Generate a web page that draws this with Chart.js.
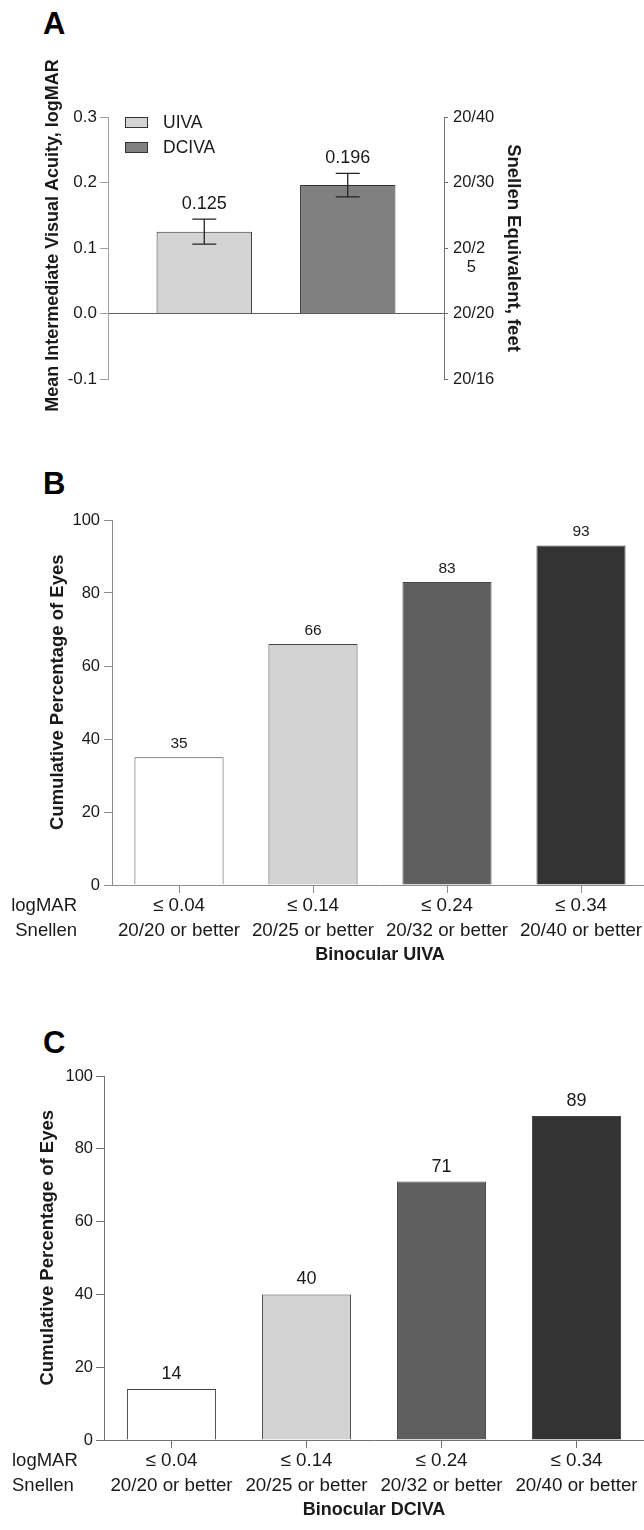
<!DOCTYPE html>
<html>
<head>
<meta charset="utf-8">
<script src="https://cdn.jsdelivr.net/npm/chart.js@4.4.0/dist/chart.umd.min.js"></script>
<style>
  body { margin: 0; background: #fff; width: 644px; height: 1530px; overflow: hidden; position: relative; font-family: "Liberation Sans", Arial, sans-serif; }
  .letter { position: absolute; left: 43px; font-weight: bold; font-size: 31px; line-height: 1; color: #000; }
  canvas { position: absolute; left: 0; }
</style>
</head>
<body>
<div class="letter" style="top:8px">A</div>
<div class="letter" style="top:468px">B</div>
<div class="letter" style="top:1027px">C</div>
<canvas id="chartA" width="644" height="380" style="top:40px"></canvas>
<canvas id="chartB" width="648" height="470" style="top:500px"></canvas>
<canvas id="chartC" width="644" height="475" style="top:1055px"></canvas>
<script>
// Panel A - mean intermediate VA
const aSeries = ['UIVA', 'DCIVA'];
const aMeans = [0.125, 0.196];
const aErrors = [0.019, 0.018];
const aColors = ['#d4d4d4', '#808080'];
const aTicks = [-0.1, 0, 0.1, 0.2, 0.3];
const aSnellen = ['20/16', '20/20', ['', '20/2', '   5'], '20/30', '20/40'];

// Panels B and C - cumulative percentages
const bcCategories = [
  ['≤ 0.04', '20/20 or better'],
  ['≤ 0.14', '20/25 or better'],
  ['≤ 0.24', '20/32 or better'],
  ['≤ 0.34', '20/40 or better']
];
const bValues = [35, 66, 83, 93];
const cValues = [14, 40, 71, 89];
const bcColors = ['#ffffff', '#d3d3d3', '#5f5f5f', '#333333'];
const rowHeaders = ['logMAR', 'Snellen'];

const FONT = '"Liberation Sans", Arial, sans-serif';
Chart.defaults.font.family = FONT;
Chart.defaults.color = '#1a1a1a';

// numbers above the bars (and above error bars in A)
const valueLabels = {
  id: 'valueLabels',
  afterDatasetsDraw(chart, args, opts) {
    const ctx = chart.ctx, y = chart.scales.y;
    ctx.save();
    ctx.font = opts.size + 'px ' + FONT;
    ctx.fillStyle = '#1a1a1a';
    ctx.textAlign = 'center';
    ctx.textBaseline = 'bottom';
    chart.data.datasets.forEach((ds, di) => {
      chart.getDatasetMeta(di).data.forEach((bar, i) => {
        const v = ds.data[i];
        const err = ds.errors ? ds.errors[i] : 0;
        ctx.fillText(opts.format(v), bar.x, y.getPixelForValue(v + err) - opts.gap);
      });
    });
    ctx.restore();
  }
};

const errorBars = {
  id: 'errorBars',
  afterDatasetsDraw(chart) {
    const ctx = chart.ctx, y = chart.scales.y;
    ctx.save();
    ctx.strokeStyle = '#222';
    ctx.lineWidth = 1.3;
    chart.data.datasets.forEach((ds, di) => {
      if (!ds.errors) return;
      chart.getDatasetMeta(di).data.forEach((bar, i) => {
        const hi = y.getPixelForValue(ds.data[i] + ds.errors[i]);
        const lo = y.getPixelForValue(ds.data[i] - ds.errors[i]);
        ctx.beginPath();
        ctx.moveTo(bar.x, hi); ctx.lineTo(bar.x, lo);
        ctx.moveTo(bar.x - 12, hi); ctx.lineTo(bar.x + 12, hi);
        ctx.moveTo(bar.x - 12, lo); ctx.lineTo(bar.x + 12, lo);
        ctx.stroke();
      });
    });
    ctx.restore();
  }
};

const boxLegend = {
  id: 'boxLegend',
  afterDraw(chart) {
    const ctx = chart.ctx, area = chart.chartArea;
    ctx.save();
    ctx.font = '17.5px ' + FONT;
    ctx.textBaseline = 'middle';
    chart.data.datasets.forEach((ds, i) => {
      const x = area.left + 17, y = area.top + i * 25;
      ctx.fillStyle = ds.backgroundColor;
      ctx.fillRect(x, y, 23, 11);
      ctx.strokeStyle = '#333';
      ctx.lineWidth = 1;
      ctx.strokeRect(x + 0.5, y + 0.5, 22, 10);
      ctx.fillStyle = '#1a1a1a';
      ctx.fillText(ds.label, x + 38, y + 6);
    });
    ctx.restore();
  }
};

const rowHeaderPlugin = {
  id: 'rowHeaders',
  afterDraw(chart, args, opts) {
    const ctx = chart.ctx, x = chart.scales.x;
    ctx.save();
    ctx.font = '18.5px ' + FONT;
    ctx.fillStyle = '#1a1a1a';
    ctx.textAlign = opts.align;
    ctx.textBaseline = 'middle';
    rowHeaders.forEach((t, i) => {
      ctx.fillText(t, opts.x, x.top + 8 + 25.2 * (i + 0.5));
    });
    ctx.restore();
  }
};

new Chart(document.getElementById('chartA'), {
  type: 'bar',
  data: {
    labels: ['Binocular'],
    datasets: aSeries.map((name, i) => ({
      label: name,
      data: [aMeans[i]],
      errors: [aErrors[i]],
      backgroundColor: aColors[i],
      borderColor: '#333',
      borderWidth: 1,
      categoryPercentage: 0.854,
      barPercentage: 0.665
    }))
  },
  options: {
    responsive: false,
    animation: false,
    layout: { padding: { left: 42, right: 120, top: 77, bottom: 41 } },
    plugins: {
      legend: { display: false },
      tooltip: { enabled: false },
      valueLabels: { size: 18, gap: 6, format: v => v.toFixed(3) }
    },
    scales: {
      x: { display: false },
      y: {
        min: -0.1, max: 0.3,
        afterBuildTicks: s => { s.ticks = aTicks.map(v => ({ value: v })); },
        ticks: { callback: v => v.toFixed(1), font: { size: 17 }, padding: 3 },
        grid: {
          drawOnChartArea: true,
          color: c => (c.tick && c.tick.value === 0) ? '#606060' : 'rgba(0,0,0,0)',
          tickColor: '#a0a0a0', tickLength: 8
        },
        border: { color: '#a0a0a0' },
        title: {
          display: true,
          text: '     Mean Intermediate Visual Acuity, logMAR',
          font: { size: 18, weight: 'bold' },
          padding: 0
        },
        afterFit: s => { s.width = 66; }
      },
      y2: {
        position: 'right',
        min: -0.1, max: 0.3,
        afterBuildTicks: s => { s.ticks = aTicks.map(v => ({ value: v })); },
        ticks: { callback: (v, i) => aSnellen[i], font: { size: 16.5, lineHeight: 1.15 }, padding: 5 },
        grid: { drawOnChartArea: false, tickColor: '#707070', tickLength: 4 },
        border: { color: '#707070' },
        title: {
          display: true,
          text: 'Snellen Equivalent, feet',
          font: { size: 18.5, weight: 'bold' },
          padding: 0
        },
        afterFit: s => { s.width = 80; }
      }
    }
  },
  plugins: [errorBars, valueLabels, boxLegend]
});

function cumulativeChart(id, values, title, o) {
  return new Chart(document.getElementById(id), {
    type: 'bar',
    data: {
      labels: bcCategories,
      datasets: [{
        data: values,
        backgroundColor: bcColors,
        borderColor: '#444',
        borderWidth: 1,
        categoryPercentage: 1,
        barPercentage: o.barPct
      }]
    },
    options: {
      responsive: false,
      animation: false,
      layout: { padding: { left: o.padLeft, right: 0, top: o.padTop, bottom: o.padBottom } },
      plugins: {
        legend: { display: false },
        tooltip: { enabled: false },
        valueLabels: { size: o.labelSize, gap: 6, format: v => String(v) },
        rowHeaders: { x: o.rowX, align: o.rowAlign }
      },
      scales: {
        x: {
          ticks: { font: { size: 18.8, lineHeight: 1.34 }, padding: 0, maxRotation: 0, autoSkip: false },
          grid: { drawOnChartArea: false, offset: false, color: o.axis, tickLength: 8 },
          border: { color: o.axis },
          title: { display: true, text: title, font: { size: 18, weight: 'bold' }, padding: 0 },
          afterFit: s => { s.height = 81; }
        },
        y: {
          min: 0, max: 100,
          ticks: { stepSize: 20, font: { size: 16.5 }, padding: o.tickPad },
          grid: { drawOnChartArea: false, color: o.axis, tickLength: 8 },
          border: { color: o.axis },
          title: {
            display: true,
            text: '    Cumulative Percentage of Eyes',
            font: { size: 18.5, weight: 'bold' },
            padding: 0
          },
          afterFit: s => { s.width = o.yW; }
        }
      }
    },
    plugins: [valueLabels, rowHeaderPlugin]
  });
}

cumulativeChart('chartB', bValues, 'Binocular UIVA', {
  padLeft: 47, yW: 65, padTop: 20, padBottom: 4, barPct: 0.665,
  labelSize: 15.5, axis: '#8c8c8c', tickPad: 4, rowX: 77, rowAlign: 'right'
});
cumulativeChart('chartC', cValues, 'Binocular DCIVA', {
  padLeft: 37, yW: 67, padTop: 21, padBottom: 9, barPct: 0.66,
  labelSize: 18, axis: '#707070', tickPad: 3, rowX: 12, rowAlign: 'left'
});
</script>
</body>
</html>
